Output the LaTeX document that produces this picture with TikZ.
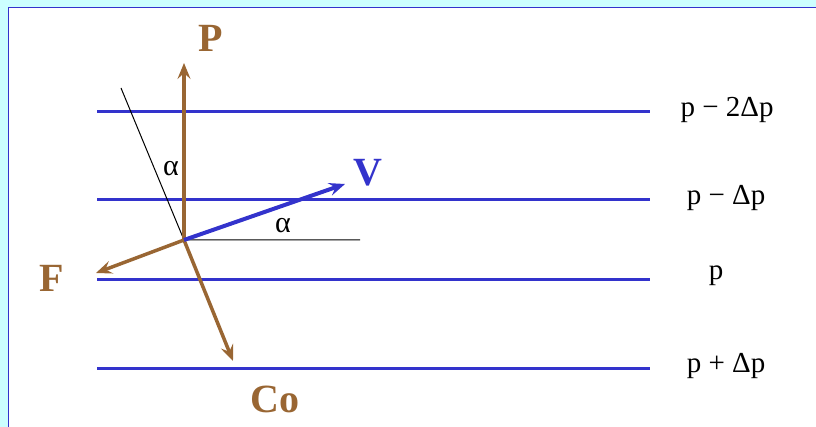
\documentclass[tikz,border=0pt]{standalone}
\usepackage{fontspec}
\setmainfont{Liberation Serif}
\usetikzlibrary{arrows.meta}
\definecolor{bgcyan}{RGB}{204,255,255}
\definecolor{brn}{RGB}{153,102,51}
\definecolor{lblue}{RGB}{51,51,204}
\tikzset{
  level/.style={draw=lblue, line width=3pt},
  force/.style={draw=brn, line width=3.5pt, -{Stealth[length=16pt,width=13pt,inset=6pt]}},
  vel/.style={draw=lblue, line width=4pt, -{Stealth[length=16pt,width=13pt,inset=6pt]}},
  thin/.style={draw=black, line width=1pt},
  flab/.style={text=brn, font=\fontsize{40}{40}\selectfont\bfseries, inner sep=0pt},
  vlab/.style={text=lblue, font=\fontsize{40}{40}\selectfont\bfseries, inner sep=0pt},
  plab/.style={font=\fontsize{29}{29}\selectfont, inner sep=0pt},
  alab/.style={font=\fontsize{30}{30}\selectfont, inner sep=0pt},
}
\begin{document}
\begin{tikzpicture}[x=1pt,y=-1pt]
\useasboundingbox (0,0) rectangle (816,427);
\fill[bgcyan] (0,0) rectangle (816,427);
\filldraw[fill=white, draw=lblue, line width=1pt] (8,8) rectangle (830,440);
% pressure levels
\coordinate (l1a) at (97,112); \coordinate (l1b) at (650,112);
\coordinate (l2a) at (97,200); \coordinate (l2b) at (650,200);
\coordinate (l3a) at (97,280); \coordinate (l3b) at (650,280);
\coordinate (l4a) at (97,368); \coordinate (l4b) at (650,368);
\draw[level] (l1a) -- (l1b);
\draw[level] (l2a) -- (l2b);
\draw[level] (l3a) -- (l3b);
\draw[level] (l4a) -- (l4b);
\node[plab] (t1) at (727,110) {p − 2Δp};
\node[plab] (t2) at (726,198) {p − Δp};
\node[plab] (t3) at (716,276) {p};
\node[plab] (t4) at (726,366) {p + Δp};
% origin and thin lines
\coordinate (O) at (184,240);
\coordinate (tl) at (121,88);
\coordinate (hr) at (360,240);
\draw[thin] (tl) -- (O) -- (hr);
% vectors
\coordinate (Pe) at (184,63);
\coordinate (Ve) at (345,184);
\coordinate (Fe) at (96,273);
\coordinate (Ce) at (233,361);
\draw[force] (O) -- (Pe);
\draw[force] (O) -- (Fe);
\draw[force] (O) -- (Ce);
\draw[vel] (O) -- (Ve);
% labels
\node[flab] (P) at (211,38) {P};
\node[flab] (F) at (52,278) {F};
\node[flab] (Co) at (275,399) {Co};
\node[vlab] (V) at (368,173) {V};
\node[alab] (a1) at (171,169) {α};
\node[alab] (a2) at (283,226) {α};
\end{tikzpicture}
\end{document}
